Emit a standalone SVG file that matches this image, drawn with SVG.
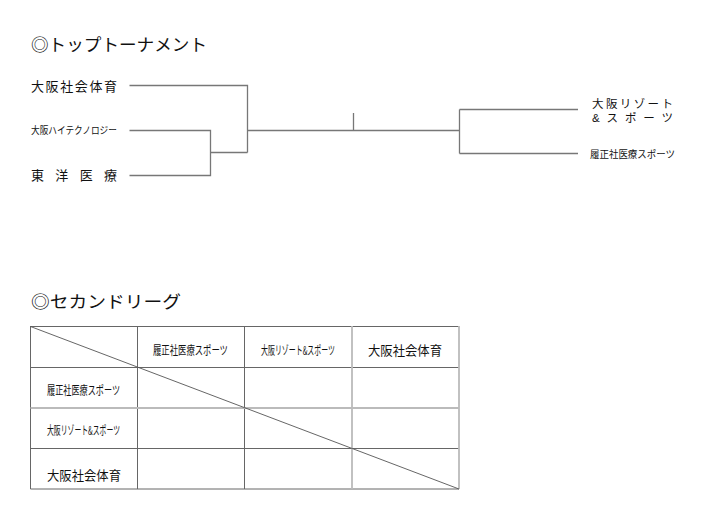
<svg xmlns="http://www.w3.org/2000/svg" width="712" height="520" viewBox="0 0 712 520">
<style>
text{font-family:"Noto Sans CJK JP","Noto Sans",sans-serif;fill:#111;}
.t{font-size:17px;}
.l{font-size:13px;}
.m{font-size:11.5px;font-family:"Liberation Sans","Noto Sans CJK JP",sans-serif;}
.s{font-size:10px;}
.c{font-size:12px;}
.br{stroke:#777;stroke-width:1.3;fill:none;}
.dk{stroke:#666;stroke-width:1;fill:none;}
.lt{stroke:#bbb;stroke-width:1.8;fill:none;}
.dg{stroke:#555;stroke-width:0.9;fill:none;}
</style>
<rect width="712" height="520" fill="#fff"/>
<text class="t" x="31" y="51" textLength="176" lengthAdjust="spacingAndGlyphs">◎トップトーナメント</text>
<text class="t" x="31" y="308" textLength="150" lengthAdjust="spacingAndGlyphs">◎セカンドリーグ</text>

<g id="n-osaka-shakai"><text class="l" x="31" y="91" textLength="86" lengthAdjust="spacing">大阪社会体育</text></g>
<g id="n-osaka-hightech"><text class="s" transform="translate(31,134) scale(0.86,1)" x="0" y="0" textLength="100" lengthAdjust="spacingAndGlyphs">大阪ハイテクノロジー</text></g>
<g id="n-toyo"><text class="l" x="31" y="180" textLength="86" lengthAdjust="spacing">東洋医療</text></g>
<g id="n-osaka-resort"><text class="m"><tspan x="592" y="108" textLength="81" lengthAdjust="spacing">大阪リゾート</tspan><tspan x="592" y="121.5" textLength="81" lengthAdjust="spacing">&amp;スポーツ</tspan></text></g>
<g id="n-rissei"><text class="s" transform="translate(590,158) scale(0.94,1)" x="0" y="0" textLength="90.4" lengthAdjust="spacingAndGlyphs">履正社医療スポーツ</text></g>

<g id="connectors">
<path class="br" d="M129.5 85.5H247.5V152.5M129.5 130.5H210.5V175.5H129.5M210.5 152.5H247.5M247.5 130.5H459.5M353.5 113V130.5M459.5 109.5V153.5M459.5 109.5H578M459.5 153.5H578"/>
</g>

<g id="league-table">
<path class="dk" d="M30.5 326.5H459M30.5 367.5H459M30.5 448.5H459M30.5 489H459M30.5 326V489M137.5 326V489M244.5 326V489"/>
<path class="lt" d="M30.5 408H459M352 326V489M459 326V489"/>
<path class="dg" d="M30.5 326.5L459 489"/>
<text class="c" transform="translate(153,355) scale(0.7,1)" x="0" y="0" textLength="107.1" lengthAdjust="spacingAndGlyphs">履正社医療スポーツ</text>
<text class="c" transform="translate(261,355) scale(0.6,1)" x="0" y="0" textLength="123.3" lengthAdjust="spacingAndGlyphs">大阪リゾート&amp;スポーツ</text>
<text class="l" x="368" y="355" textLength="74" lengthAdjust="spacingAndGlyphs">大阪社会体育</text>
<text class="c" transform="translate(47,395) scale(0.7,1)" x="0" y="0" textLength="104.3" lengthAdjust="spacingAndGlyphs">履正社医療スポーツ</text>
<text class="c" transform="translate(47,435) scale(0.6,1)" x="0" y="0" textLength="121.7" lengthAdjust="spacingAndGlyphs">大阪リゾート&amp;スポーツ</text>
<text class="l" x="47" y="480" textLength="74" lengthAdjust="spacingAndGlyphs">大阪社会体育</text>
</g>
</svg>
